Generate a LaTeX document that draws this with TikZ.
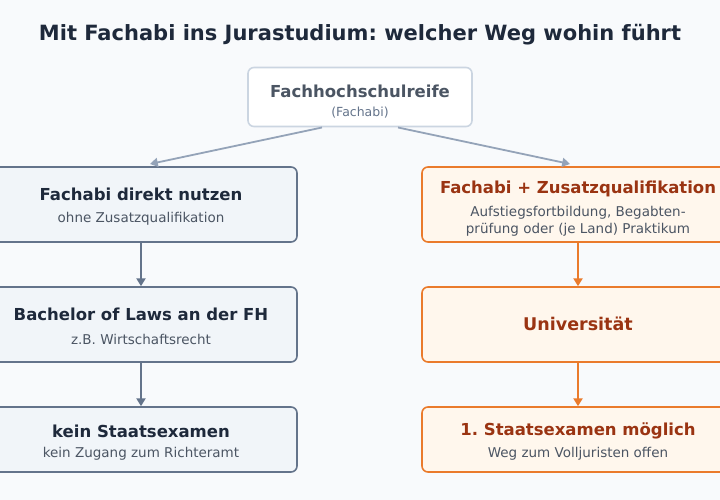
\documentclass[tikz,border=0pt]{standalone}
\usepackage{fontspec}
\setmainfont{DejaVu Sans}
\usetikzlibrary{positioning}
\usetikzlibrary{arrows.meta}
\definecolor{bgcol}{HTML}{F8FAFC}
\definecolor{slate}{HTML}{64748B}
\definecolor{slatefill}{HTML}{F1F5F9}
\definecolor{navy}{HTML}{1E293B}
\definecolor{subgray}{HTML}{4B5563}
\definecolor{topline}{HTML}{CBD5E1}
\definecolor{arrgray}{HTML}{94A3B8}
\definecolor{orange}{HTML}{EA7B2C}
\definecolor{orangefill}{HTML}{FFF7ED}
\definecolor{rust}{HTML}{9A3412}
\frenchspacing
\tikzset{
  box/.style={rectangle,rounded corners=6pt,line width=1.6pt,minimum width=312pt,align=center},
  plain/.style={box,draw=slate,fill=slatefill,text=navy},
  extra/.style={box,draw=orange,fill=orangefill,text=rust},
  head/.style={font=\fontsize{16.5}{19}\bfseries\selectfont},
  sub/.style={font=\fontsize{13.5}{16}\selectfont,text=subgray},
  link/.style={-{Triangle[angle=60:9pt]},line width=1.8pt}
}
\begin{document}
\begin{tikzpicture}[x=1pt,y=-1pt]

            \fill[bgcol] (0,0) rectangle (720,500);
            \useasboundingbox (0,0) rectangle (720,500);

            \node (title) at (360,35) [font=\fontsize{21}{24}\bfseries\selectfont,text=navy] {Mit Fachabi ins Jurastudium: welcher Weg wohin führt};

            \node (top) at (360,97) [box,draw=topline,fill=white,minimum width=224pt,minimum height=59pt] {};
            \node at (360,91) [head,text=subgray] {Fachhochschulreife};
            \node at (360,113) [sub,font=\fontsize{12.5}{15}\selectfont,text=slate] {(Fachabi)};

            % left column
            \node (l1) at (141,204.5) [plain,minimum height=75pt] {};
            \node at (141,194) [head,text=navy] {Fachabi direkt nutzen};
            \node at (141,219) [sub] {ohne Zusatzqualifikation};
            \node (l2) at (141,324.5) [plain,minimum height=75pt] {};
            \node at (141,314) [head,text=navy] {Bachelor of Laws an der FH};
            \node at (141,339) [sub] {z.B. Wirtschaftsrecht};
            \node (l3) at (141,439.5) [plain,minimum height=65pt] {};
            \node at (141,431) [head,text=navy] {kein Staatsexamen};
            \node at (141,454) [sub] {kein Zugang zum Richteramt};

            % right column
            \node (r1) at (578,204.5) [extra,minimum height=75pt] {};
            \node at (578,189) [head,text=rust] {Fachabi + Zusatzqualifikation};
            \node at (578,213) [sub] {Aufstiegsfortbildung, Begabten-};
            \node at (578,230) [sub] {prüfung oder (je Land) Praktikum};
            \node (r2) at (578,324.5) [extra,minimum height=75pt] {};
            \node at (578,324) [head,font=\fontsize{17.5}{20}\bfseries\selectfont,text=rust] {Universität};
            \node (r3) at (578,439.5) [extra,minimum height=65pt] {};
            \node at (578,431) [head,text=rust] {1. Staatsexamen möglich};
            \node at (578,454) [sub] {Weg zum Volljuristen offen};

            \coordinate (tl) at (322,127.5);
            \coordinate (tr) at (398,127.5);
            \coordinate (el) at (150,164);
            \coordinate (er) at (570,164);

            \draw[link,arrgray] (tl) -- (el);
            \draw[link,arrgray] (tr) -- (er);
            \draw[link,slate] (l1) -- (l2);
            \draw[link,slate] (l2) -- (l3);
            \draw[link,orange] (r1) -- (r2);
            \draw[link,orange] (r2) -- (r3);

\end{tikzpicture}
\end{document}
